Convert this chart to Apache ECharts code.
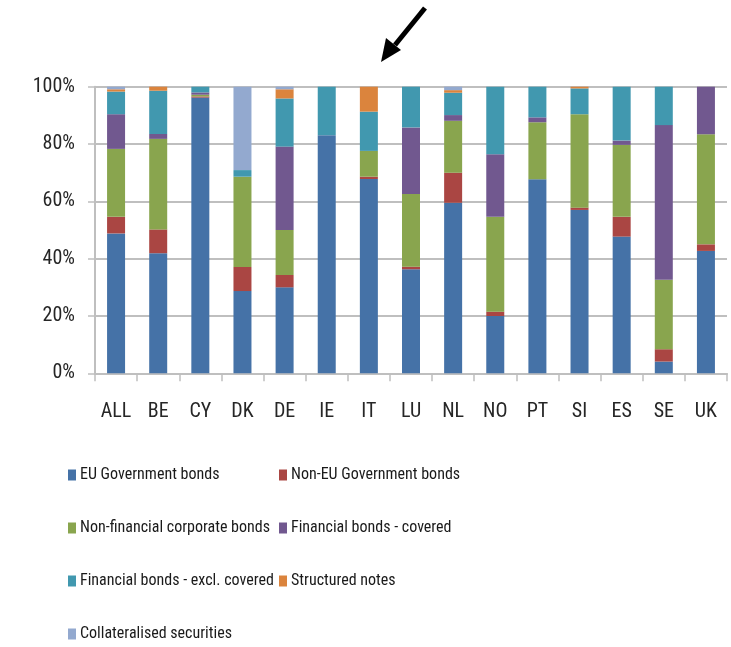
<!DOCTYPE html>
<html>
<head>
<meta charset="utf-8">
<script src="https://cdn.jsdelivr.net/npm/echarts@6/dist/echarts.min.js"></script>
<style>html,body{margin:0;padding:0;background:#fff;}#c{width:731px;height:647px;}</style>
</head>
<body>
<div id="c"></div>
<script>
const categories = ['ALL','BE','CY','DK','DE','IE','IT','LU','NL','NO','PT','SI','ES','SE','UK'];
const seriesNames = ['EU Government bonds','Non-EU Government bonds','Non-financial corporate bonds','Financial bonds - covered','Financial bonds - excl. covered','Structured notes','Collateralised securities'];
const euGov      = [48.8, 41.9, 96.2, 28.7, 30.0, 83.1, 67.8, 36.3, 59.5, 20.0, 67.7, 57.0, 47.7,  4.1, 42.7];
const nonEuGov   = [ 5.8,  8.3,  0.4,  8.4,  4.3,  0.0,  0.8,  0.9, 10.5,  1.5,  0.0,  0.8,  6.9,  4.3,  2.3];
const nonFinCorp = [23.7, 31.6,  0.6, 31.5, 15.7,  0.0,  9.0, 25.4, 18.1, 33.1, 19.9, 32.6, 25.1, 24.2, 38.4];
const finCovered = [12.1,  1.7,  0.8,  0.0, 29.1,  0.0,  0.0, 23.2,  2.0, 21.8,  1.7,  0.0,  1.5, 54.0, 16.6];
const finExcl    = [ 7.9, 15.1,  2.0,  2.3, 16.8, 16.9, 13.7, 14.2,  7.8, 23.6, 10.7,  9.0, 18.8, 13.4,  0.0];
const structured = [ 0.8,  1.4,  0.0,  0.0,  3.2,  0.0,  8.7,  0.0,  0.9,  0.0,  0.0,  0.6,  0.0,  0.0,  0.0];
const collat     = [ 0.9,  0.0,  0.0, 29.1,  0.9,  0.0,  0.0,  0.0,  1.2,  0.0,  0.0,  0.0,  0.0,  0.0,  0.0];
const yTicks = [0, 20, 40, 60, 80, 100];

const values = [euGov, nonEuGov, nonFinCorp, finCovered, finExcl, structured, collat];
const colors = ['#4572A7','#AA4643','#89A54E','#71588F','#4198AF','#DB843D','#93A9CF'];
const FONT = '"Roboto Condensed", "Liberation Sans", sans-serif';

const legendPos = [
  {left: 68, top: 467}, {left: 279, top: 467},
  {left: 68, top: 520}, {left: 279, top: 520},
  {left: 68, top: 573}, {left: 279, top: 573},
  {left: 68, top: 626}
];

const chart = echarts.init(document.getElementById('c'), null, {renderer: 'canvas'});
chart.setOption({
  animation: false,
  backgroundColor: '#fff',
  grid: {left: 95, right: 4, top: 86.7, bottom: 273.7, containLabel: false},
  legend: seriesNames.map((n, i) => ({
    data: [n], left: legendPos[i].left, top: legendPos[i].top,
    itemWidth: 8, itemHeight: 11, itemGap: 0, padding: 0,
    icon: 'rect',
    textStyle: {fontFamily: FONT, fontSize: 16, color: '#1a1a1a', padding: [0,0,0,-1]}
  })),
  xAxis: {
    type: 'category', data: categories,
    axisLine: {show: true, lineStyle: {color: '#BFBFBF', width: 2}},
    axisTick: {show: true, length: 8, lineStyle: {color: '#BFBFBF', width: 1.5}},
    axisLabel: {interval: 0, fontFamily: FONT, fontSize: 20, color: '#262626', margin: 29}
  },
  yAxis: {
    type: 'value', min: 0, max: 100, interval: 20,
    axisLine: {show: true, lineStyle: {color: '#BFBFBF', width: 2}},
    axisTick: {show: true, length: 7, lineStyle: {color: '#BFBFBF', width: 1.5}},
    splitLine: {show: true, lineStyle: {color: '#BFBFBF', width: 2}},
    axisLabel: {formatter: v => yTicks.includes(v) ? v + '%' : '', fontFamily: FONT, fontSize: 20, color: '#262626', margin: 20}
  },
  series: seriesNames.map((n, i) => ({
    name: n, type: 'bar', stack: 'total', data: values[i],
    barWidth: 18,
    itemStyle: {color: colors[i]}
  })),
  graphic: [
    {type: 'line', shape: {x1: 425, y1: 8, x2: 395, y2: 45}, style: {stroke: '#000', lineWidth: 5}},
    {type: 'polygon', shape: {points: [[381, 62], [386, 38], [401, 50]]}, style: {fill: '#000'}}
  ]
});
</script>
</body>
</html>
